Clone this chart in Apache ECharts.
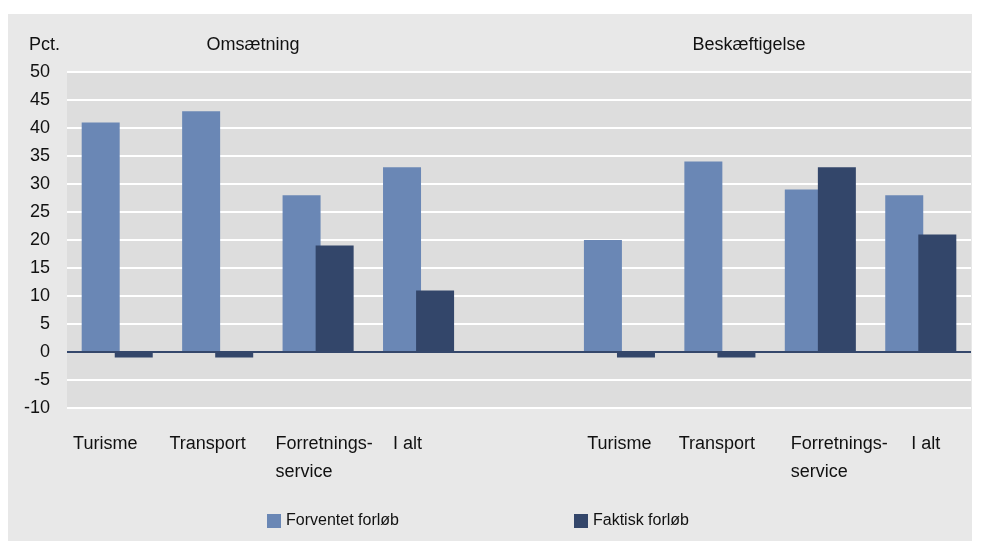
<!DOCTYPE html>
<html>
<head>
<meta charset="utf-8">
<script src="https://cdn.jsdelivr.net/npm/echarts@6/dist/echarts.min.js"></script>
<style>
  html, body { margin: 0; padding: 0; background: #ffffff; }
  #box { position: absolute; left: 8px; top: 14px; width: 964px; height: 527px; background: #e8e8e8; }
  #main { position: absolute; left: 0; top: 0; width: 983px; height: 541px; }
</style>
</head>
<body>
<div id="box"></div>
<div id="main"></div>
<script>
// kategorier: Omsætning (4), tom plads, Beskæftigelse (4)
var kategorier = ['Turisme', 'Transport', 'Forretnings-\nservice', 'I alt', '',
                  'Turisme', 'Transport', 'Forretnings-\nservice', 'I alt'];
var forventet = [41, 43, 28, 33, '-', 20, 34, 29, 28];
var faktisk   = [-1, -1, 19, 11, '-', -1, -1, 33, 21];
var yTicks = { min: -10, max: 50, interval: 5 };

// små vandrette forskydninger af etiketterne (px)
var labelShift = [-12, -10, 6, -11, 0, 0, -3, 19, 5];

var fontFam = 'Liberation Sans, Arial, sans-serif';

var xData = kategorier.map(function (k, i) {
    var s = labelShift[i];
    var pad = s < 0 ? [0, -2 * s, 0, 0] : [0, 0, 0, 2 * s];
    return { value: k, textStyle: { padding: pad } };
});

var chart = echarts.init(document.getElementById('main'));

var option = {
    textStyle: { fontFamily: fontFam },
    animation: false,
    // overskrifter
    graphic: [
        { type: 'text', x: 29, y: 45, style: { text: 'Pct.', font: '18px ' + fontFam, fill: '#111', textVerticalAlign: 'middle' } },
        { type: 'text', x: 253, y: 45, style: { text: 'Omsætning', font: '18px ' + fontFam, fill: '#111', textAlign: 'center', textVerticalAlign: 'middle' } },
        { type: 'text', x: 749, y: 45, style: { text: 'Beskæftigelse', font: '18px ' + fontFam, fill: '#111', textAlign: 'center', textVerticalAlign: 'middle' } }
    ],
    legend: [
        {
            data: ['Forventet forløb'], left: 262, top: 508,
            icon: 'rect', itemWidth: 14, itemHeight: 14,
            textStyle: { fontSize: 16, color: '#111', fontFamily: fontFam }
        },
        {
            data: ['Faktisk forløb'], left: 569, top: 508,
            icon: 'rect', itemWidth: 14, itemHeight: 14,
            textStyle: { fontSize: 16, color: '#111', fontFamily: fontFam }
        }
    ],
    grid: {
        left: 67, right: 12, top: 72, bottom: 133,
        show: true, backgroundColor: '#dddddd', borderWidth: 0
    },
    xAxis: {
        type: 'category',
        data: xData,
        axisLine: { show: false, onZero: false },
        axisTick: { show: false },
        axisLabel: {
            interval: 0, margin: 22, color: '#111', fontSize: 18,
            lineHeight: 28, fontFamily: fontFam,
            formatter: function (v) {
                if (v.indexOf('\n') >= 0) {
                    return v.split('\n').map(function (s) { return '{l|' + s + '}'; }).join('\n');
                }
                return v;
            },
            rich: { l: { width: 97, align: 'left', fontSize: 18, lineHeight: 28, color: '#111' } }
        }
    },
    yAxis: {
        type: 'value',
        min: yTicks.min, max: yTicks.max, interval: yTicks.interval,
        axisLine: { show: false },
        axisTick: { show: false },
        axisLabel: { color: '#111', fontSize: 18, margin: 17, fontFamily: fontFam },
        splitLine: { lineStyle: { color: '#ffffff', width: 2 } }
    },
    series: [
        {
            name: 'Forventet forløb',
            type: 'bar',
            data: forventet,
            barWidth: 38,
            barGap: '-13%',
            itemStyle: { color: '#6a87b5' },
            markLine: {
                silent: true, symbol: 'none', label: { show: false },
                lineStyle: { color: '#34476b', width: 2, type: 'solid' },
                data: [{ yAxis: 0 }]
            }
        },
        {
            name: 'Faktisk forløb',
            type: 'bar',
            data: faktisk,
            barWidth: 38,
            itemStyle: { color: '#33466a' }
        }
    ]
};

chart.setOption(option);
</script>
</body>
</html>
